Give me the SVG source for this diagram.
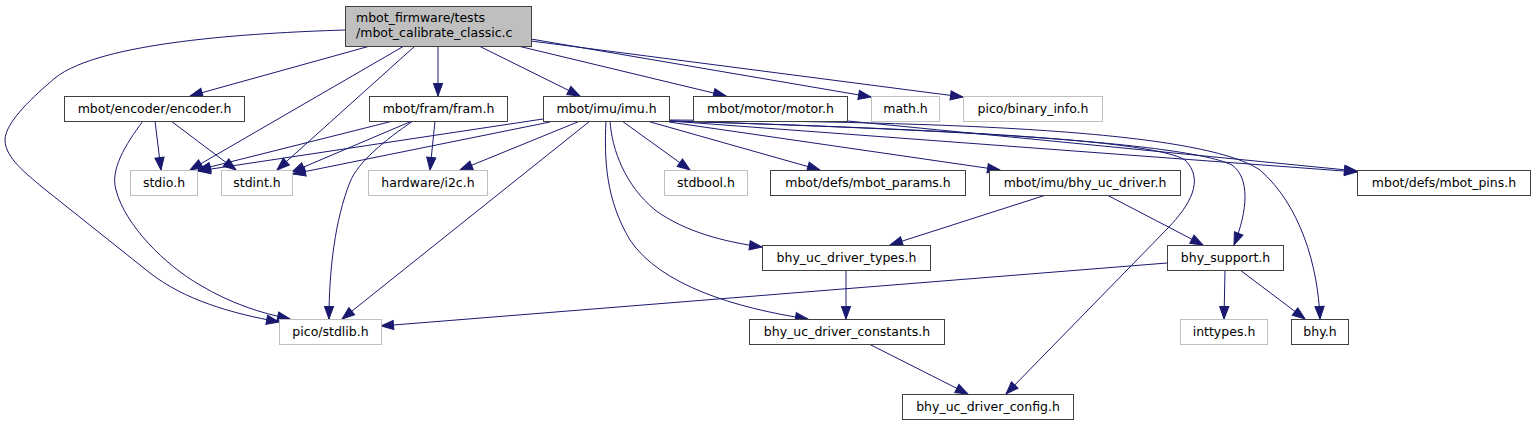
<svg xmlns="http://www.w3.org/2000/svg" width="1535" height="425" viewBox="0 0 1535 425">
<style>
.n rect{fill:#fff;stroke:#404040;stroke-width:1}
.g rect{fill:#fff;stroke:#bfbfbf;stroke-width:1}
.r rect{fill:#bfbfbf;stroke:#404040;stroke-width:1}
text{font-family:"DejaVu Sans",sans-serif;font-size:12.5px;fill:#000;text-anchor:middle}
.e path{fill:none;stroke:#191970;stroke-width:1;marker-end:url(#a)}
</style>
<defs>
<marker id="a" markerUnits="userSpaceOnUse" markerWidth="14" markerHeight="11" refX="12.5" refY="4.6" orient="auto" overflow="visible">
<path d="M0,0 L12.5,4.6 L0,9.2 z" fill="#191970" stroke="#191970" stroke-width="1"/>
</marker>
</defs>
<rect width="1535" height="425" fill="#fff"/>
<g class="e" id="edges">
<path d="M345,30 C250,33 100,42 55,78 C35,95 5,122 5,140 C5,158 28,175 42,187 L150,273 C185,300 230,313 279,322"/>
<path d="M370,46 L190,96"/>
<path d="M404,46 L190,170"/>
<path d="M415,46 L277,170"/>
<path d="M438,46 L438,96"/>
<path d="M479,46 L580,96"/>
<path d="M518,46 L726,96"/>
<path d="M531,39 L871,97"/>
<path d="M531,41 L963,97"/>
<path d="M155,121 L161,170"/>
<path d="M171,121 L236,170"/>
<path d="M143,121 C125,145 110,170 116,190 C125,225 165,265 200,285 C230,303 260,313 290,319"/>
<path d="M393,121 L198,170"/>
<path d="M412,121 L292,172"/>
<path d="M435,121 L430,170"/>
<path d="M413,121 C385,140 358,162 350,182 C335,220 329,270 329,319"/>
<path d="M543,119 L198,171"/>
<path d="M550,122 L293,174"/>
<path d="M580,121 L460,170"/>
<path d="M590,121 L342,319"/>
<path d="M622,121 L690,170"/>
<path d="M647,121 L820,170"/>
<path d="M669,122 L1000,170"/>
<path d="M610,121 C612,150 625,185 655,210 C685,232 725,242 762,247"/>
<path d="M606,121 C604,160 606,200 630,240 C660,285 735,308 808,319"/>
<path d="M670,121 L1357,172"/>
<path d="M670,121 C900,128 1180,140 1232,165 C1250,178 1248,210 1234,245"/>
<path d="M670,121 C900,128 1150,138 1185,160 C1205,180 1190,205 1168,228 L1006,394"/>
<path d="M670,120 C950,122 1200,130 1260,170 C1300,205 1318,265 1320,319"/>
<path d="M848,121 L1357,171"/>
<path d="M1046,195 L890,245"/>
<path d="M1107,195 L1203,245"/>
<path d="M846,270 L846,319"/>
<path d="M1167,263 L381,326"/>
<path d="M1225,270 L1224,319"/>
<path d="M1240,270 L1305,319"/>
<path d="M869,344 L968,394"/>
</g>
<g id="root" class="r"><rect x="345.5" y="6.5" width="186" height="40"/><text x="356" y="22" style="text-anchor:start">mbot_firmware/tests</text><text x="356" y="37" style="text-anchor:start">/mbot_calibrate_classic.c</text></g>
<g id="encoder" class="n"><rect x="64.5" y="96.5" width="180" height="25"/><text x="154.5" y="113">mbot/encoder/encoder.h</text></g>
<g id="fram" class="n"><rect x="369.5" y="96.5" width="138" height="25"/><text x="438.5" y="113">mbot/fram/fram.h</text></g>
<g id="imu" class="n"><rect x="543.5" y="96.5" width="126" height="25"/><text x="606.5" y="113">mbot/imu/imu.h</text></g>
<g id="motor" class="n"><rect x="693.5" y="96.5" width="154" height="25"/><text x="770.5" y="113">mbot/motor/motor.h</text></g>
<g id="math" class="g"><rect x="871.5" y="96.5" width="68" height="25"/><text x="905.5" y="113">math.h</text></g>
<g id="binary_info" class="g"><rect x="963.5" y="96.5" width="139" height="25"/><text x="1033" y="113">pico/binary_info.h</text></g>
<g id="stdio" class="g"><rect x="130.5" y="170.5" width="67" height="25"/><text x="164" y="187">stdio.h</text></g>
<g id="stdint" class="g"><rect x="221.5" y="170.5" width="71" height="25"/><text x="257" y="187">stdint.h</text></g>
<g id="i2c" class="g"><rect x="368.5" y="170.5" width="119" height="25"/><text x="428" y="187">hardware/i2c.h</text></g>
<g id="stdbool" class="g"><rect x="664.5" y="170.5" width="83" height="25"/><text x="706" y="187">stdbool.h</text></g>
<g id="params" class="n"><rect x="770.5" y="170.5" width="195" height="25"/><text x="868" y="187">mbot/defs/mbot_params.h</text></g>
<g id="bhy_uc_driver" class="n"><rect x="989.5" y="170.5" width="191" height="25"/><text x="1085" y="187">mbot/imu/bhy_uc_driver.h</text></g>
<g id="mbot_pins" class="n"><rect x="1357.5" y="170.5" width="173" height="25"/><text x="1444" y="187">mbot/defs/mbot_pins.h</text></g>
<g id="types" class="n"><rect x="762.5" y="245.5" width="168" height="25"/><text x="846.5" y="262">bhy_uc_driver_types.h</text></g>
<g id="bhy_support" class="n"><rect x="1167.5" y="245.5" width="116" height="25"/><text x="1225.5" y="262">bhy_support.h</text></g>
<g id="stdlib" class="g"><rect x="279.5" y="319.5" width="102" height="25"/><text x="330.5" y="336">pico/stdlib.h</text></g>
<g id="constants" class="n"><rect x="749.5" y="319.5" width="195" height="25"/><text x="847" y="336">bhy_uc_driver_constants.h</text></g>
<g id="inttypes" class="g"><rect x="1180.5" y="319.5" width="87" height="25"/><text x="1224" y="336">inttypes.h</text></g>
<g id="bhy" class="n"><rect x="1291.5" y="319.5" width="57" height="25"/><text x="1320" y="336">bhy.h</text></g>
<g id="config" class="n"><rect x="902.5" y="394.5" width="171" height="25"/><text x="988" y="411">bhy_uc_driver_config.h</text></g>
</svg>
